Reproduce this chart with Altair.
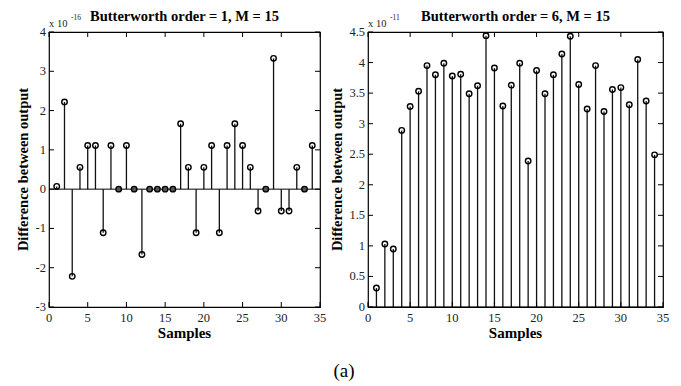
import altair as alt
import pandas as pd

samples = list(range(1, 35))
diff_order1 = [0.07, 2.22, -2.22, 0.555, 1.11, 1.11, -1.11, 1.11, 0.0, 1.11,
               0.0, -1.665, 0.0, 0.0, 0.0, 0.0, 1.665, 0.555, -1.11, 0.555,
               1.11, -1.11, 1.11, 1.665, 1.11, 0.555, -0.555, 0.0, 3.33, -0.555,
               -0.555, 0.555, 0.0, 1.11]
diff_order6 = [0.31, 1.03, 0.95, 2.89, 3.28, 3.53, 3.95, 3.80, 3.99, 3.78,
               3.81, 3.49, 3.62, 4.44, 3.91, 3.29, 3.63, 3.99, 2.39, 3.87,
               3.49, 3.80, 4.14, 4.43, 3.64, 3.24, 3.95, 3.20, 3.56, 3.59,
               3.31, 4.05, 3.37, 2.49]
x_ticks = [0, 5, 10, 15, 20, 25, 30, 35]
y_ticks_left = [-3, -2, -1, 0, 1, 2, 3, 4]
y_ticks_right = [0, 0.5, 1, 1.5, 2, 2.5, 3, 3.5, 4, 4.5]
titles = ["Butterworth order = 1, M = 15", "Butterworth order = 6, M = 15"]
exponents = ["-16", "-11"]
x_title = "Samples"
y_title = "Difference between output"
caption = "(a)"

SERIF = "Liberation Serif"
H = 275
W_LEFT, W_RIGHT = 271, 295
GAP = 48


def txt(s, **kw):
    return alt.Chart(pd.DataFrame({"t": [s]})).mark_text(font=SERIF, **kw)


def panel(values, ydom, yticks, title, exp, W, ytitle_dx, with_caption=False):
    df = pd.DataFrame({"n": samples, "v": values, "z": [0] * len(samples)})
    xs = alt.Scale(domain=[0, 35], nice=False, zero=False)
    ys = alt.Scale(domain=ydom, nice=False, zero=False)
    X = lambda f: alt.X(f, scale=xs, axis=None)
    Y = lambda f: alt.Y(f, scale=ys, axis=None)
    base = alt.Chart(df)
    stems = base.mark_rule(color="#111", strokeWidth=1.3).encode(
        x=X("n:Q"), y=Y("v:Q"), y2="z:Q")
    pts = base.mark_point(shape="circle", filled=False, color="black", size=30,
                          strokeWidth=1.4, opacity=1).encode(
        x=X("n:Q"), y=Y("v:Q"),
        fill=alt.condition("datum.v == 0", alt.value("#555"), alt.value("transparent")))
    zero = alt.Chart(pd.DataFrame({"v": [0]})).mark_rule(
        color="black", strokeWidth=1).encode(y=Y("v:Q"))
    xt = pd.DataFrame({"n": x_ticks, "lab": [f"{t:g}" for t in x_ticks]})
    yt = pd.DataFrame({"v": yticks, "lab": [f"{t:g}" for t in yticks]})
    tb = alt.Chart(xt).mark_rule(color="black").encode(
        x=X("n:Q"), y=alt.value(H), y2=alt.value(H - 5))
    tt = alt.Chart(xt).mark_rule(color="black").encode(
        x=X("n:Q"), y=alt.value(0), y2=alt.value(5))
    tl = alt.Chart(yt).mark_rule(color="black").encode(
        y=Y("v:Q"), x=alt.value(0), x2=alt.value(5))
    tr = alt.Chart(yt).mark_rule(color="black").encode(
        y=Y("v:Q"), x=alt.value(W), x2=alt.value(W - 5))
    xlab = alt.Chart(xt).mark_text(font=SERIF, fontSize=12.5, baseline="top",
                                   align="center", color="#222").encode(
        x=X("n:Q"), y=alt.value(H + 5), text="lab:N")
    ylab = alt.Chart(yt).mark_text(font=SERIF, fontSize=12.5, baseline="middle",
                                   align="right", color="#222").encode(
        y=Y("v:Q"), x=alt.value(-3), text="lab:N")
    xtitle = txt(x_title, fontSize=15, fontWeight="bold", align="center",
                 baseline="alphabetic", color="black").encode(
        text="t:N", x=alt.value(W / 2), y=alt.value(H + 31))
    ytitle = txt(y_title, fontSize=14.5, fontWeight="bold", align="center",
                 baseline="middle", angle=270, color="black").encode(
        text="t:N", x=alt.value(ytitle_dx), y=alt.value(H / 2))
    x10 = txt("x 10", fontSize=10.5, align="left", baseline="alphabetic",
              color="#222").encode(text="t:N", x=alt.value(0), y=alt.value(-5.5))
    sup = txt(exp, fontSize=7.5, align="left", baseline="alphabetic",
              color="#222").encode(text="t:N", x=alt.value(22), y=alt.value(-12))
    ttl = txt(title, fontSize=14.5, fontWeight="bold", align="center",
              baseline="alphabetic", color="black").encode(
        text="t:N", x=alt.value(W / 2), y=alt.value(-11))
    layers = [stems, zero, pts, tb, tt, tl, tr, xlab, ylab, xtitle, ytitle, x10, sup, ttl]
    if with_caption:
        layers.append(txt(caption, fontSize=19, align="center", baseline="alphabetic",
                          color="black").encode(
            text="t:N", x=alt.value(W + GAP / 2), y=alt.value(H + 70)))
    return alt.layer(*layers).properties(width=W, height=H)


left = panel(diff_order1, [-3, 4], y_ticks_left, titles[0], exponents[0], W_LEFT, -25,
             with_caption=True)
right = panel(diff_order6, [0, 4.5], y_ticks_right, titles[1], exponents[1], W_RIGHT, -30)

chart = alt.hconcat(left, right, spacing=GAP, bounds="flush").properties(
    padding={"left": 15, "top": 8, "right": 5, "bottom": 2},
    background="white",
).configure_view(stroke="black", strokeWidth=1.2)

chart.save("out.html", embed_options={"renderer": "svg", "actions": False})
